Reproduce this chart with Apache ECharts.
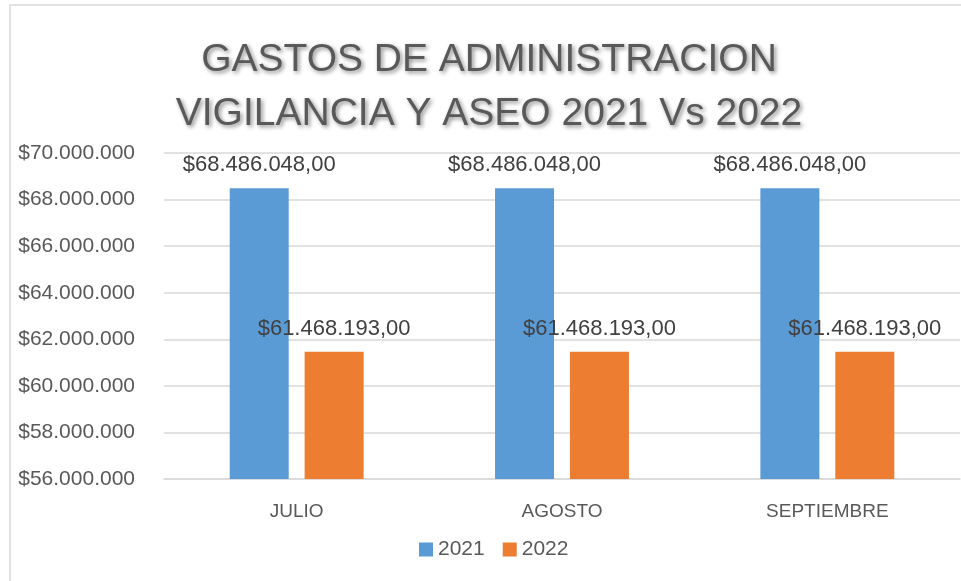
<!DOCTYPE html>
<html>
<head>
<meta charset="utf-8">
<script src="https://cdn.jsdelivr.net/npm/echarts@6/dist/echarts.min.js"></script>
<style>
html,body{margin:0;padding:0;background:#fff;}
#chart{width:961px;height:581px;}
</style>
</head>
<body>
<div id="chart"></div>
<script>
var titleLines = ['GASTOS DE ADMINISTRACION', 'VIGILANCIA Y ASEO 2021 Vs 2022'];
var categories = ['JULIO', 'AGOSTO', 'SEPTIEMBRE'];
var seriesNames = ['2021', '2022'];
var values2021 = [68486048, 68486048, 68486048];
var values2022 = [61468193, 61468193, 61468193];
var yMin = 56000000, yMax = 70000000, yStep = 2000000;

function fmtThousands(n) {
  return String(Math.round(n)).replace(/\B(?=(\d{3})+(?!\d))/g, '.');
}
function fmtMoneyDec(n) {
  return '$' + fmtThousands(n) + ',00';
}

var chart = echarts.init(document.getElementById('chart'));
var txt = '#595959';
var font = "'Liberation Sans', Arial, sans-serif";
chart.setOption({
  animation: false,
  backgroundColor: '#ffffff',
  graphic: [
    {
      type: 'rect',
      shape: { x: 10, y: 5, width: 1000, height: 700 },
      style: { fill: 'none', stroke: '#D9D9D9', lineWidth: 1.5 },
      silent: true
    },
    {
      type: 'text',
      x: 489, y: 87,
      style: {
        text: titleLines.join('\n'),
        font: "39px 'Liberation Sans', Arial, sans-serif",
        fill: '#595959',
        align: 'center',
        verticalAlign: 'middle',
        lineHeight: 54,
        textShadowColor: 'rgba(0,0,0,0.45)',
        textShadowBlur: 4,
        textShadowOffsetX: 2,
        textShadowOffsetY: 2
      }
    }
  ],
  grid: { left: 164, right: 1, top: 153, bottom: 102, containLabel: false },
  legend: {
    data: seriesNames,
    left: 419, top: 539, padding: 0,
    itemWidth: 14, itemHeight: 14, itemGap: 18,
    icon: 'rect',
    textStyle: { color: txt, fontSize: 21, fontFamily: font }
  },
  xAxis: {
    type: 'category',
    data: categories,
    axisLine: { lineStyle: { color: '#D9D9D9', width: 1.5 } },
    axisTick: { show: false },
    axisLabel: { color: txt, fontSize: 19, fontFamily: font, margin: 23 }
  },
  yAxis: {
    type: 'value',
    min: yMin, max: yMax, interval: yStep,
    axisLine: { show: false },
    axisTick: { show: false },
    splitLine: { lineStyle: { color: '#D9D9D9', width: 1.5 } },
    axisLabel: {
      color: txt, fontSize: 21, fontFamily: font, margin: 29,
      formatter: function (v) { return '$' + fmtThousands(v); }
    }
  },
  series: [
    {
      name: seriesNames[0], type: 'bar', data: values2021,
      barWidth: 59, barGap: '27%',
      itemStyle: { color: '#5B9BD5' },
      label: {
        show: true, position: 'top', distance: 12,
        color: '#404040', fontSize: 22, fontFamily: font,
        formatter: function (p) { return fmtMoneyDec(p.value); }
      }
    },
    {
      name: seriesNames[1], type: 'bar', data: values2022,
      barWidth: 59,
      itemStyle: { color: '#ED7D31' },
      label: {
        show: true, position: 'top', distance: 12,
        color: '#404040', fontSize: 22, fontFamily: font,
        formatter: function (p) { return fmtMoneyDec(p.value); }
      }
    }
  ]
});
</script>
</body>
</html>
